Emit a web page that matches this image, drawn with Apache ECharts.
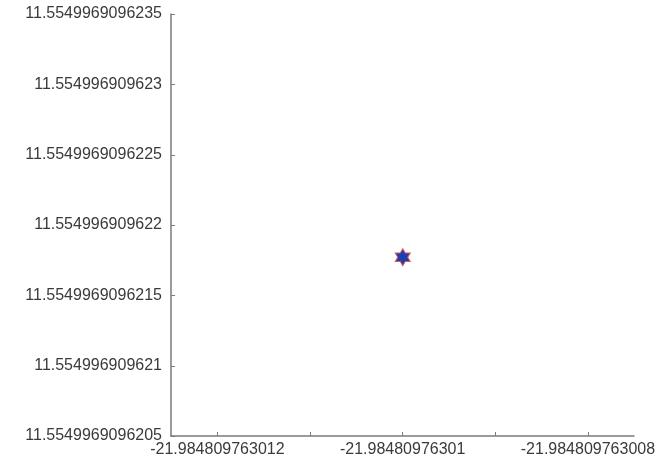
<!DOCTYPE html>
<html>
<head>
<meta charset="utf-8">
<script src="https://cdn.jsdelivr.net/npm/echarts@6/dist/echarts.min.js"></script>
<style>
  html, body { margin: 0; padding: 0; background: #fff; }
  #chart { width: 672px; height: 465px; }
</style>
</head>
<body>
<div id="chart"></div>
<script>
// axis extents
const xRange = [-21.9848097630125, -21.9848097630075]
const yRange = [11.5549969096205, 11.5549969096235]

// tick positions and labelled ticks
const xTickValues = [-21.984809763012, -21.984809763011, -21.98480976301, -21.984809763009, -21.984809763008]
const xLabelValues = [-21.984809763012, -21.98480976301, -21.984809763008]
const yTickValues = [
  11.5549969096205, 11.554996909621, 11.5549969096215, 11.554996909622,
  11.5549969096225, 11.554996909623, 11.5549969096235
]

// the single point
const pointX = [-21.98480976301]
const pointY = [11.55499690962177]

// hexagram marker (shape only)
const hexagram = 'path://M100 0L128.9 50L186.6 50L157.7 100L186.6 150L128.9 150L100 200L71.1 150L13.4 150L42.3 100L13.4 50L71.1 50Z'

function fmt (v) {
  return String(parseFloat(Number(v).toPrecision(15)))
}

const axisColor = '#7a7a7a'
const labelStyle = {
  color: '#3a3a3a',
  fontFamily: 'Liberation Sans, Arial, sans-serif',
  fontSize: 16
}

const chart = echarts.init(document.getElementById('chart'), null, { renderer: 'canvas' })
chart.setOption({
  animation: false,
  backgroundColor: '#fff',
  grid: {
    left: 171,
    right: 38,
    top: 14,
    bottom: 29,
    containLabel: false
  },
  xAxis: {
    type: 'value',
    min: xRange[0],
    max: xRange[1],
    scale: true,
    axisLine: { show: true, onZero: false, lineStyle: { color: axisColor, width: 1.5 } },
    axisTick: { show: true, inside: true, length: 4, customValues: xTickValues, lineStyle: { color: axisColor } },
    axisLabel: Object.assign({ margin: 6, customValues: xLabelValues, formatter: fmt }, labelStyle),
    splitLine: { show: false }
  },
  yAxis: {
    type: 'value',
    min: yRange[0],
    max: yRange[1],
    scale: true,
    axisLine: { show: true, onZero: false, lineStyle: { color: axisColor, width: 1.5 } },
    axisTick: { show: true, inside: true, length: 4, customValues: yTickValues, lineStyle: { color: axisColor } },
    axisLabel: Object.assign({ margin: 9, customValues: yTickValues, formatter: fmt }, labelStyle),
    splitLine: { show: false }
  },
  series: [
    {
      type: 'scatter',
      data: pointX.map((x, i) => [x, pointY[i]]),
      symbol: hexagram,
      symbolSize: [15, 17],
      itemStyle: {
        color: '#1c3fb2',
        borderColor: '#e0584f',
        borderWidth: 1,
        opacity: 1
      }
    }
  ]
})
</script>
</body>
</html>
